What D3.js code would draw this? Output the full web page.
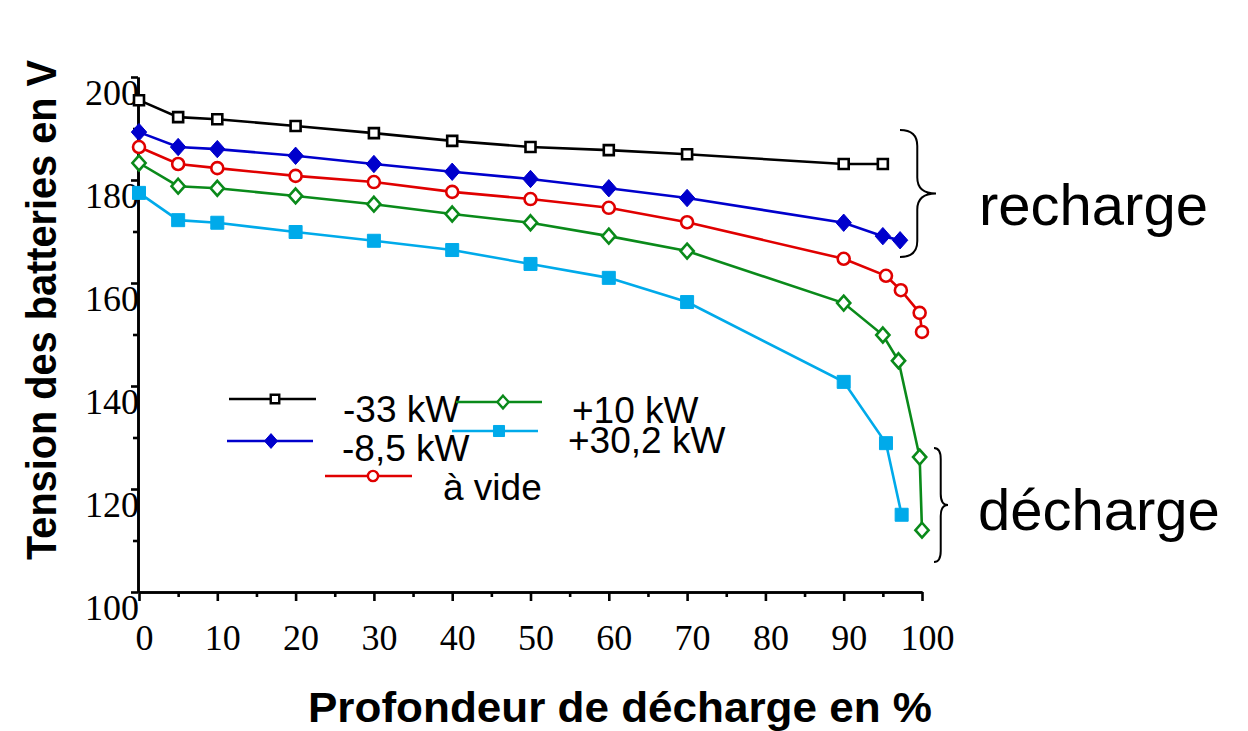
<!DOCTYPE html>
<html>
<head>
<meta charset="utf-8">
<script src="https://cdn.jsdelivr.net/npm/d3@7"></script>
<style>
  html, body { margin: 0; padding: 0; background: #fff; }
  svg { display: block; }
</style>
</head>
<body>
<svg width="1248" height="731"></svg>
<script>
// tick labels
var xTicks = [0, 10, 20, 30, 40, 50, 60, 70, 80, 90, 100];
var yTicks = [100, 120, 140, 160, 180, 200];

// series names
var seriesNames = ["-33 kW", "-8,5 kW", "à vide", "+10 kW", "+30,2 kW"];

// profondeur de décharge (%) per series
var depthM33  = [0, 5, 10, 20, 30, 40, 50, 60, 70, 90, 95];
var depthM85  = [0, 5, 10, 20, 30, 40, 50, 60, 70, 90, 95, 97.2];
var depthVide = [0, 5, 10, 20, 30, 40, 50, 60, 70, 90, 95.4, 97.3, 99.7, 100];
var depthP10  = [0, 5, 10, 20, 30, 40, 50, 60, 70, 90, 95, 97, 99.7, 100];
var depthP302 = [0, 5, 10, 20, 30, 40, 50, 60, 70, 90, 95.4, 97.4];

// tension des batteries (V) per series
var voltM33  = [195.5, 192.2, 191.8, 190.5, 189.1, 187.6, 186.4, 185.8, 185.0, 183.1, 183.1];
var voltM85  = [189.3, 186.4, 186.0, 184.7, 183.1, 181.6, 180.2, 178.4, 176.5, 171.7, 169.1, 168.3];
var voltVide = [186.4, 183.1, 182.3, 180.8, 179.6, 177.7, 176.3, 174.6, 171.8, 164.7, 161.4, 158.6, 154.2, 150.5];
var voltP10  = [183.3, 178.8, 178.4, 176.9, 175.3, 173.4, 171.7, 169.1, 166.2, 156.1, 149.9, 144.9, 126.2, 112.0];
var voltP302 = [177.5, 172.2, 171.7, 169.9, 168.2, 166.4, 163.7, 161.0, 156.3, 140.8, 128.9, 115.0];

var svg = d3.select("svg");

var x = d3.scaleLinear().domain([0, 100]).range([139, 922]);
var y = d3.scaleLinear().domain([100, 200]).range([592, 77]);

// marker shapes
function markerPath(kind, s) {
    if (kind === "square") {
        return "M" + (-s / 2) + "," + (-s / 2) + "h" + s + "v" + s + "h" + (-s) + "Z";
    }
    if (kind === "diamond") {
        var w = s * 0.55, h = s * 0.62;
        return "M0," + (-h) + "L" + w + ",0L0," + h + "L" + (-w) + ",0Z";
    }
    return d3.symbol().type(d3.symbolCircle).size(s * s * 0.785)();
}

var series = [
    { name: seriesNames[0], depth: depthM33,  volt: voltM33,  color: "#000000", shape: "square",  size: 10, fill: "#fff", leg: [229, 316, 399, 275, 343, 422] },
    { name: seriesNames[1], depth: depthM85,  volt: voltM85,  color: "#0000cc", shape: "diamond", size: 14, fill: null,   leg: [227, 313, 441, 271, 342, 461] },
    { name: seriesNames[2], depth: depthVide, volt: voltVide, color: "#e00000", shape: "circle",  size: 12, fill: "#fff", leg: [325, 412, 476, 373, 443, 500] },
    { name: seriesNames[3], depth: depthP10,  volt: voltP10,  color: "#0a8a1a", shape: "diamond", size: 12, fill: "#fff", leg: [456, 542, 402, 503, 572, 423] },
    { name: seriesNames[4], depth: depthP302, volt: voltP302, color: "#00aaea", shape: "square",  size: 13, fill: null,   leg: [452, 538, 431, 499, 568, 453] }
];

// axes
var xAxis = d3.axisBottom(x).tickValues(xTicks).tickSize(9).tickSizeOuter(0);
var xMinor = d3.axisBottom(x).tickValues(d3.range(5, 100, 10)).tickSize(5).tickSizeOuter(0).tickFormat("");
var yAxis = d3.axisLeft(y).tickValues(yTicks).tickSize(7).tickSizeOuter(0);
var yMinor = d3.axisLeft(y).tickValues(d3.range(110, 200, 20)).tickSize(5).tickSizeOuter(0).tickFormat("");

function styleAxis(g) {
    g.selectAll("path, line").attr("stroke", "#000").attr("stroke-width", 2.6);
    g.selectAll("text").attr("fill", "#000")
        .style("font-family", "'Liberation Serif', 'Times New Roman', serif")
        .style("font-size", "36px");
}

svg.append("g").attr("transform", "translate(0,592)").call(xMinor).call(styleAxis);
svg.append("g").attr("transform", "translate(0,592)").call(xAxis).call(styleAxis)
    .selectAll("text").attr("dy", 0).attr("y", 58).attr("dx", 5);
svg.append("g").attr("transform", "translate(138,0)").call(yMinor).call(styleAxis);
svg.append("g").attr("transform", "translate(138,0)").call(yAxis).call(styleAxis)
    .selectAll("text").attr("dy", 0).attr("y", 27).attr("x", 1);

// curves
var line = d3.line()
    .x(function(d) { return x(d[0]); })
    .y(function(d) { return y(d[1]); });

series.forEach(function(s) {
    var pts = s.depth.map(function(d, i) { return [d, s.volt[i]]; });
    var g = svg.append("g");
    g.append("path")
        .attr("d", line(pts))
        .attr("fill", "none")
        .attr("stroke", s.color)
        .attr("stroke-width", 2.6);
    g.selectAll("path.mk")
        .data(pts)
        .enter().append("path")
        .attr("class", "mk")
        .attr("transform", function(d) { return "translate(" + x(d[0]) + "," + y(d[1]) + ")"; })
        .attr("d", markerPath(s.shape, s.size))
        .attr("fill", s.fill || s.color)
        .attr("stroke", s.color)
        .attr("stroke-width", s.fill ? 2.6 : 1);
});

// legend
var legend = svg.append("g");
series.forEach(function(s) {
    var L = s.leg;
    legend.append("line")
        .attr("x1", L[0]).attr("x2", L[1]).attr("y1", L[2]).attr("y2", L[2])
        .attr("stroke", s.color).attr("stroke-width", 2.6);
    legend.append("path")
        .attr("transform", "translate(" + L[3] + "," + L[2] + ")")
        .attr("d", markerPath(s.shape, s.size * 0.85))
        .attr("fill", s.fill || s.color)
        .attr("stroke", s.color)
        .attr("stroke-width", s.fill ? 2.4 : 1);
    legend.append("text")
        .attr("x", L[4]).attr("y", L[5])
        .style("font-family", "'Liberation Sans', Arial, sans-serif")
        .style("font-size", "37px")
        .text(s.name);
});

// braces
function brace(x0, x1, y1, y2, r) {
    var xm = x0 + (x1 - x0) * 0.48, ym = (y1 + y2) / 2;
    return "M" + x0 + "," + y1 +
        "Q" + xm + "," + y1 + " " + xm + "," + (y1 + r) +
        "L" + xm + "," + (ym - r) +
        "Q" + xm + "," + ym + " " + x1 + "," + ym +
        "Q" + xm + "," + ym + " " + xm + "," + (ym + r) +
        "L" + xm + "," + (y2 - r) +
        "Q" + xm + "," + y2 + " " + x0 + "," + y2;
}
svg.append("path").attr("d", brace(900, 936, 130, 257, 16))
    .attr("fill", "none").attr("stroke", "#000").attr("stroke-width", 2);
svg.append("path").attr("d", brace(934, 948, 448, 562, 11))
    .attr("fill", "none").attr("stroke", "#000").attr("stroke-width", 2);

svg.append("text").attr("x", 979).attr("y", 225)
    .style("font-family", "'Liberation Sans', Arial, sans-serif")
    .style("font-size", "58px")
    .text("recharge");
svg.append("text").attr("x", 978).attr("y", 530)
    .style("font-family", "'Liberation Sans', Arial, sans-serif")
    .style("font-size", "58px")
    .text("décharge");

// axis titles
svg.append("text")
    .attr("x", 620).attr("y", 722)
    .attr("text-anchor", "middle")
    .attr("textLength", 624).attr("lengthAdjust", "spacingAndGlyphs")
    .style("font-family", "'Liberation Sans', Arial, sans-serif")
    .style("font-size", "42px").style("font-weight", "bold")
    .text("Profondeur de décharge en %");
svg.append("text")
    .attr("transform", "translate(56,310) rotate(-90)")
    .attr("text-anchor", "middle")
    .attr("textLength", 500).attr("lengthAdjust", "spacingAndGlyphs")
    .style("font-family", "'Liberation Sans', Arial, sans-serif")
    .style("font-size", "42px").style("font-weight", "bold")
    .text("Tension des batteries en V");
</script>
</body>
</html>
